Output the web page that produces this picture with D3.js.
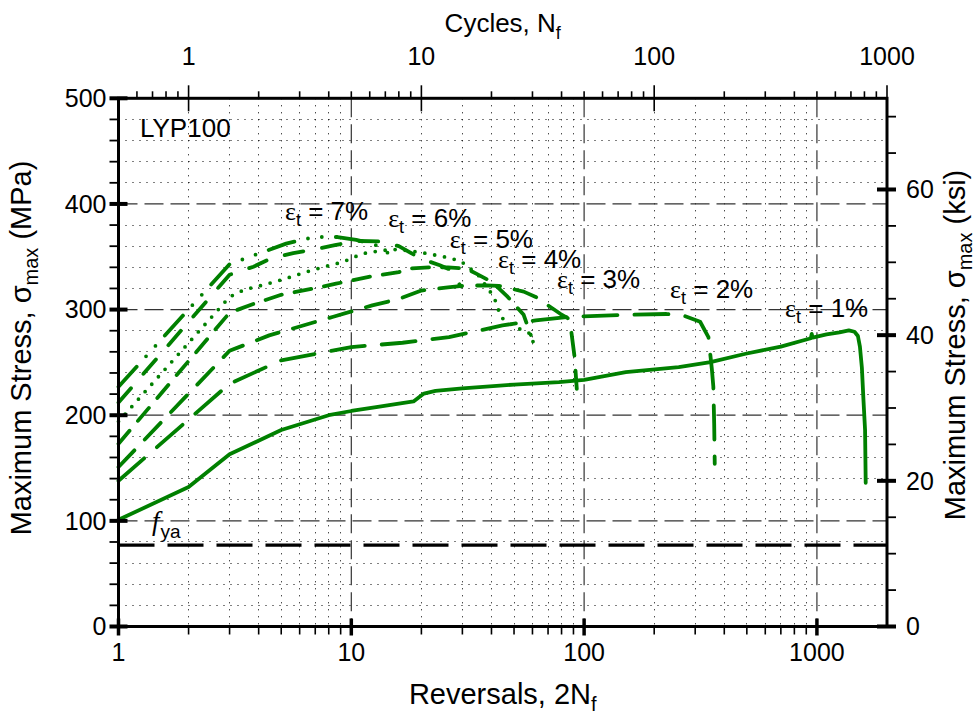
<!DOCTYPE html>
<html>
<head>
<meta charset="utf-8">
<script src="https://cdn.jsdelivr.net/npm/d3@7"></script>
<style>
  html, body { margin: 0; padding: 0; background: #fff; }
  svg { display: block; font-family: "Liberation Sans", Arial, sans-serif; }
</style>
</head>
<body>
<svg id="chart" width="977" height="719"></svg>
<script>
// ---- axis ticks ----
const reversalTicks = [1, 10, 100, 1000];
const cycleTicks = [1, 10, 100, 1000];
const stressTicks = [0, 100, 200, 300, 400, 500];
const ksiTicks = [0, 20, 40, 60];

// ---- series: total strain amplitude, reversals 2Nf, peak stress (MPa) ----
const strainLabels = ["1%", "2%", "3%", "4%", "5%", "6%", "7%"];
const yieldStress = 77; // f_ya, MPa

const rev1 = [1, 2, 3, 5, 8, 10, 13, 16, 18.5, 20.5, 23, 30, 50, 78, 100, 151, 255, 349, 494, 700, 925, 942, 950, 958, 1100, 1250, 1371, 1450, 1500, 1530, 1560, 1585, 1610, 1620];
const sig1 = [101, 132, 163, 186, 200, 204, 208, 211, 213, 220.5, 223, 225.5, 229, 231.4, 233.5, 240.8, 245.5, 250.3, 258.2, 265, 272.4, 273, 277, 273.5, 276.5, 278.5, 280.3, 279, 275, 265, 245, 214, 186, 136];

const rev2 = [1, 3, 5, 10, 16.6, 26.3, 44.6, 62, 84, 150, 226, 270, 315, 342, 354, 359, 362, 364];
const sig2 = [138, 229.8, 252, 264.5, 268.6, 274, 285, 289.8, 292.9, 295, 295.8, 294, 288.5, 274, 243, 227, 192, 154];

const rev3 = [1, 3, 4.44, 8.3, 12.3, 16, 20, 26, 30, 38, 43, 55, 62, 79, 85, 88, 91, 93];
const sig3 = [151, 261, 275.6, 293, 304, 310, 318, 321, 322.5, 323, 322.5, 317, 312, 296, 292, 280, 255, 225];

const rev4 = [1, 3, 3.83, 5, 7.1, 8.6, 11.9, 16, 18, 22, 26, 30, 32.4, 34.4, 40.3, 47, 55, 59];
const sig4 = [173, 297, 305.6, 314, 320.5, 324.5, 331, 335.5, 339, 340, 340, 339, 337, 334, 326, 312, 295, 276];

const rev5 = [1, 3, 3.47, 4.23, 5.16, 6.38, 7.5, 9.18, 11.2, 13.6, 16, 20, 25, 29.5, 35, 41, 42.4, 43.8, 50, 59, 61];
const sig5 = [194, 312, 318.8, 323.5, 329, 335.5, 340, 345, 353, 356, 357, 354, 350, 346, 333, 312, 303, 293, 284, 277, 266];

const rev6 = [1, 3, 3.8, 4.55, 5.63, 7, 8.5, 10.5, 13.2, 16, 20, 24, 26.5, 28, 29.5];
const sig6 = [212, 333, 340.6, 348.7, 353.4, 357, 361, 365, 364.5, 360, 348, 342, 338, 330, 322];

const rev7 = [1, 3, 4.16, 5.25, 6.93, 8.73, 10.5, 12.5, 14, 15];
const sig7 = [227, 343, 354.4, 362.4, 368.7, 368.7, 366, 362, 356, 349];

// ---- drawing ----
const svg = d3.select("#chart");
const GREEN = "#008000";
const MPA_PER_KSI = 6.89476;

const x = d3.scaleLog().domain([1, 2000]).range([118.5, 887]);
const y = d3.scaleLinear().domain([0, 500]).range([626.5, 98.3]);
const [X0, X1] = x.range();
const [Y0, Y1] = y.range(); // Y0 bottom, Y1 top
const crisp = v => Math.round(v - 0.5) + 0.5;

// log minor positions inside the reversal domain
const minorRev = [];
[1, 10, 100, 1000].forEach(d => {
  for (let k = 2; k <= 9; k++) if (d * k < 2000) minorRev.push(d * k);
});

// grid: dotted minor lines
const grid = svg.append("g");
minorRev.forEach(v => {
  grid.append("line")
    .attr("x1", crisp(x(v))).attr("x2", crisp(x(v)))
    .attr("y1", Y1).attr("y2", Y0)
    .attr("stroke", "#000").attr("stroke-width", 1)
    .attr("stroke-dasharray", "1,6");
});
d3.range(20, 500, 20).filter(v => v % 100 !== 0).forEach(v => {
  grid.append("line")
    .attr("x1", X0).attr("x2", X1)
    .attr("y1", crisp(y(v))).attr("y2", crisp(y(v)))
    .attr("stroke", "#000").attr("stroke-width", 1)
    .attr("stroke-dasharray", "1,6");
});
// grid: dashed major lines
[10, 100, 1000].forEach(v => {
  grid.append("line")
    .attr("x1", x(v)).attr("x2", x(v))
    .attr("y1", Y1).attr("y2", Y0)
    .attr("stroke", "#333").attr("stroke-width", 1.2)
    .attr("stroke-dasharray", "19,7");
});
[100, 200, 300, 400].forEach(v => {
  grid.append("line")
    .attr("x1", X0).attr("x2", X1)
    .attr("y1", y(v)).attr("y2", y(v))
    .attr("stroke", "#333").attr("stroke-width", 1.2)
    .attr("stroke-dasharray", "19,7");
});

// yield stress line
svg.append("line")
  .attr("x1", X0).attr("x2", X1)
  .attr("y1", y(yieldStress)).attr("y2", y(yieldStress))
  .attr("stroke", "#000").attr("stroke-width", 3.2)
  .attr("stroke-dasharray", "36,13");

// curves
const revs = [rev1, rev2, rev3, rev4, rev5, rev6, rev7];
const sigs = [sig1, sig2, sig3, sig4, sig5, sig6, sig7];
const dashes = [null, "34,17", "23,15", "17,13", "0,10", "19,19", "27,14,0,14,0,14"];
const line = d3.line().x(d => x(d[0])).y(d => y(d[1]));
const curves = svg.append("g");
strainLabels.forEach((lab, i) => {
  const pts = revs[i].map((r, j) => [r, sigs[i][j]]);
  curves.append("path")
    .attr("d", line(pts))
    .attr("fill", "none")
    .attr("stroke", GREEN)
    .attr("stroke-width", 3.8)
    .attr("stroke-linecap", "round")
    .attr("stroke-linejoin", "round")
    .attr("stroke-dasharray", dashes[i]);
});

// frame
const axes = svg.append("g").attr("stroke", "#000");
axes.append("rect")
  .attr("x", X0).attr("y", Y1).attr("width", X1 - X0).attr("height", Y0 - Y1)
  .attr("fill", "none").attr("stroke-width", 3);

// bottom ticks (reversals)
minorRev.forEach(v => {
  axes.append("line").attr("x1", x(v)).attr("x2", x(v))
    .attr("y1", Y0).attr("y2", Y0 + 8).attr("stroke-width", 1.6);
});
reversalTicks.forEach(v => {
  axes.append("line").attr("x1", x(v)).attr("x2", x(v))
    .attr("y1", Y0 - 8).attr("y2", Y0 + 9).attr("stroke-width", 3.5);
});

// top ticks (cycles = reversals / 2)
const cyc = c => x(c * 2);
const minorCyc = [0.6, 0.7, 0.8, 0.9];
[1, 10, 100].forEach(d => { for (let k = 2; k <= 9; k++) minorCyc.push(d * k); });
minorCyc.forEach(c => {
  axes.append("line").attr("x1", cyc(c)).attr("x2", cyc(c))
    .attr("y1", Y1).attr("y2", Y1 - 7).attr("stroke-width", 1.6);
});
cycleTicks.forEach(c => {
  axes.append("line").attr("x1", cyc(c)).attr("x2", cyc(c))
    .attr("y1", Y1 - 13).attr("y2", Y1 + 13).attr("stroke-width", 1.6);
});

// left ticks (MPa)
d3.range(0, 501, 20).forEach(v => {
  const major = v % 100 === 0;
  axes.append("line")
    .attr("x1", X0 - 9).attr("x2", major ? X0 + 9 : X0)
    .attr("y1", y(v)).attr("y2", y(v))
    .attr("stroke-width", major ? 4 : 1.8);
});

// right ticks (ksi)
const yk = k => y(k * MPA_PER_KSI);
d3.range(0, 500 / MPA_PER_KSI, 5).forEach(k => {
  const major = k % 20 === 0;
  axes.append("line")
    .attr("x1", major ? X1 - 10 : X1).attr("x2", X1 + 9)
    .attr("y1", yk(k)).attr("y2", yk(k))
    .attr("stroke-width", major ? 4 : 1.8);
});

// tick labels
const labels = svg.append("g").attr("font-size", 25).attr("fill", "#000");
reversalTicks.forEach(v => {
  labels.append("text").attr("x", x(v)).attr("y", Y0 + 34)
    .attr("text-anchor", "middle").text(v);
});
cycleTicks.forEach(c => {
  labels.append("text").attr("x", cyc(c)).attr("y", Y1 - 33)
    .attr("text-anchor", "middle").text(c);
});
stressTicks.forEach(v => {
  labels.append("text").attr("x", X0 - 12).attr("y", y(v))
    .attr("dy", "0.35em").attr("text-anchor", "end").text(v);
});
ksiTicks.forEach(k => {
  labels.append("text").attr("x", X1 + 19).attr("y", yk(k))
    .attr("dy", "0.35em").attr("text-anchor", "start").text(k);
});

// axis titles
const titles = svg.append("g").attr("fill", "#000");
function subTitle(g, size, main, sub, tail) {
  g.attr("font-size", size);
  g.append("tspan").text(main);
  g.append("tspan").attr("font-size", Math.round(size * 0.68)).attr("dy", size * 0.25).text(sub);
  if (tail) g.append("tspan").attr("dy", -size * 0.25).text(tail);
}
subTitle(titles.append("text").attr("x", (X0 + X1) / 2).attr("y", 32).attr("text-anchor", "middle"),
  26, "Cycles, N", "f");
subTitle(titles.append("text").attr("x", (X0 + X1) / 2).attr("y", 704).attr("text-anchor", "middle"),
  29, "Reversals, 2N", "f");
subTitle(titles.append("text").attr("text-anchor", "middle")
    .attr("transform", "translate(31,348) rotate(-90)"),
  29, "Maximum Stress, σ", "max", " (MPa)");
subTitle(titles.append("text").attr("text-anchor", "middle")
    .attr("transform", "translate(965,345) rotate(-90)"),
  29, "Maximum Stress, σ", "max", " (ksi)");

// specimen name
svg.append("text").attr("x", 140).attr("y", 137).attr("font-size", 26).text("LYP100");

// yield stress label
const fy = svg.append("text").attr("x", 152).attr("y", y(yieldStress) - 15);
fy.append("tspan").attr("font-family", "Liberation Serif").attr("font-style", "italic")
  .attr("font-size", 27).text("f");
fy.append("tspan").attr("font-size", 19).attr("dy", 8).attr("dx", 1).text("ya");

// strain amplitude labels, anchored in data units (reversals, MPa)
const labelAt = [[730, 293], [234, 311], [76.5, 320.4], [42.7, 339.4], [26.5, 358.3], [14.4, 378.2], [5.19, 384.8]];
strainLabels.forEach((lab, i) => {
  const t = svg.append("text")
    .attr("x", x(labelAt[i][0])).attr("y", y(labelAt[i][1]))
    .attr("font-size", 26);
  t.append("tspan").attr("font-family", "Liberation Serif").text("ε");
  t.append("tspan").attr("font-size", 18).attr("dy", 6).text("t");
  t.append("tspan").attr("dy", -6).text(" = " + lab);
});
</script>
</body>
</html>
